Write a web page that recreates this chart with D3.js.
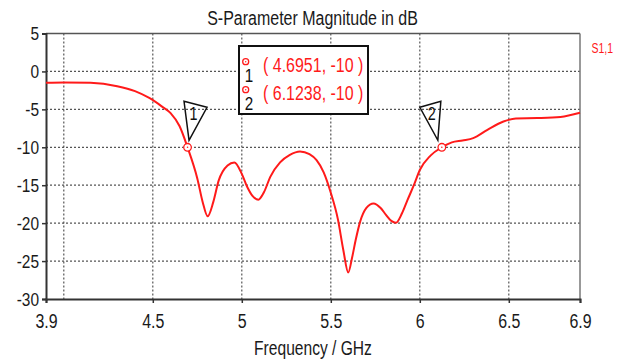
<!DOCTYPE html>
<html>
<head>
<meta charset="utf-8">
<script src="https://cdn.jsdelivr.net/npm/d3@7"></script>
<style>
  body { margin: 0; background: #fff; }
  text { font-family: "Liberation Sans", Arial, sans-serif; }
</style>
</head>
<body>
<script>
    const chart_width = 628;
    const chart_height = 362;

    // S11 curve
    const freq = [3.9, 4.0, 4.15, 4.3, 4.4, 4.48, 4.55, 4.6, 4.65, 4.6951, 4.75, 4.78, 4.808, 4.84, 4.87,
        4.92, 4.958, 5.0, 5.03, 5.06, 5.093, 5.125, 5.16, 5.215, 5.27, 5.327, 5.38, 5.42, 5.46, 5.5,
        5.54, 5.57, 5.598, 5.62, 5.64, 5.665, 5.7, 5.74, 5.78, 5.81, 5.84, 5.866, 5.9, 5.93, 5.97,
        6.0, 6.06, 6.1238, 6.18, 6.24, 6.3, 6.38, 6.47, 6.54, 6.66, 6.79, 6.9];
    const s11 = [-1.5, -1.45, -1.5, -1.95, -2.6, -3.5, -4.6, -5.5, -7.2, -10, -14.1, -17.2, -19.1, -17.2, -14.4,
        -12.4, -12.0, -13.5, -15.2, -16.4, -16.9, -15.9, -13.9, -12.0, -11.0, -10.55, -10.9, -11.7, -13.3, -16.0,
        -19.5, -23.5, -26.5, -24.5, -22.2, -19.8, -18.0, -17.4, -18.0, -18.9, -19.7, -19.95, -18.7, -17.0, -14.8,
        -13.0, -11.1, -10, -9.35, -9.1, -8.8, -7.7, -6.6, -6.2, -6.15, -6.0, -5.45];

    const marker_freq = [4.6951, 6.1238];
    const marker_db = [-10, -10];
    const marker_names = ['1', '2'];

    const x_tick_labels = [3.9, 4.5, 5, 5.5, 6, 6.5, 6.9];
    const x_grid = [4, 4.5, 5, 5.5, 6, 6.5];
    const y_ticks = [5, 0, -5, -10, -15, -20, -25, -30];
    const y_grid = [0, -5, -10, -15, -20, -25];

    const svg = d3.select('body').append('svg')
        .attr('width', chart_width).attr('height', chart_height);

    const plot_left = 46, plot_right = 580, plot_top = 33.5, plot_bottom = 299;
    const x = d3.scaleLinear().domain([3.9, 6.9]).range([plot_left, plot_right]);
    const y = d3.scaleLinear().domain([-30, 5]).range([plot_bottom, plot_top]);

    // squeezed text, the original font is narrow
    function squeezedText(g, px, py, txt, size, sx, fill, anchor) {
        return g.append('text')
            .attr('transform', `translate(${px},${py}) scale(${sx},1)`)
            .attr('font-size', size)
            .attr('fill', fill)
            .attr('text-anchor', anchor)
            .text(txt);
    }

    // grid
    svg.append('g').selectAll('line').data(x_grid).join('line')
        .attr('x1', d => x(d)).attr('x2', d => x(d))
        .attr('y1', plot_top).attr('y2', plot_bottom)
        .attr('stroke', '#555').attr('stroke-width', 1.2).attr('stroke-dasharray', '2,2');
    svg.append('g').selectAll('line').data(y_grid).join('line')
        .attr('x1', plot_left).attr('x2', plot_right)
        .attr('y1', d => y(d)).attr('y2', d => y(d))
        .attr('stroke', '#555').attr('stroke-width', 1.2).attr('stroke-dasharray', '2,2');

    // frame
    svg.append('line').attr('x1', plot_left).attr('x2', plot_right).attr('y1', plot_top).attr('y2', plot_top)
        .attr('stroke', '#555').attr('stroke-width', 1.5);
    svg.append('line').attr('x1', plot_right).attr('x2', plot_right).attr('y1', plot_top).attr('y2', plot_bottom)
        .attr('stroke', '#777').attr('stroke-width', 1.5);

    // axes
    const xAxis = svg.append('g').attr('transform', `translate(0,${plot_bottom})`)
        .call(d3.axisBottom(x).tickValues(x_tick_labels).tickSize(4).tickFormat(d => d));
    const yAxis = svg.append('g').attr('transform', `translate(${plot_left},0)`)
        .call(d3.axisLeft(y).tickValues(y_ticks).tickSize(4).tickFormat(d => d));
    [xAxis, yAxis].forEach(a => {
        a.select('.domain').attr('stroke', '#333').attr('stroke-width', 2);
        a.selectAll('.tick line').attr('stroke', '#333').attr('stroke-width', 1.5);
    });
    xAxis.selectAll('.tick text')
        .attr('x', null).attr('y', null).attr('dy', null)
        .attr('transform', 'translate(0,29) scale(0.76,1)')
        .attr('font-size', 21).attr('fill', '#1a1a1a')
        .attr('font-family', '"Liberation Sans", Arial, sans-serif');
    yAxis.selectAll('.tick text')
        .attr('x', null).attr('y', null).attr('dy', null)
        .attr('transform', 'translate(-7,6.3) scale(0.86,1)')
        .attr('font-size', 18).attr('fill', '#1a1a1a')
        .attr('font-family', '"Liberation Sans", Arial, sans-serif');

    // curve
    const pts = freq.map((f, i) => [f, s11[i]]);
    svg.append('path')
        .attr('d', d3.line().x(d => x(d[0])).y(d => y(d[1])).curve(d3.curveMonotoneX)(pts))
        .attr('fill', 'none').attr('stroke', '#ff1a1a').attr('stroke-width', 2);

    // marker flags
    marker_freq.forEach((f, i) => {
        const mx = x(f), my = y(marker_db[i]);
        const tri = i === 0
            ? [[mx - 3.5, my - 46], [mx + 19.5, my - 40], [mx + 1.5, my - 7]]
            : [[mx - 22, my - 40], [mx - 1, my - 46], [mx - 4, my - 7]];
        svg.append('path')
            .attr('d', d3.line()(tri) + 'Z')
            .attr('fill', 'none').attr('stroke', '#111').attr('stroke-width', 1.5);
        const tx = i === 0 ? mx + 6 : mx - 10;
        squeezedText(svg, tx, my - 27, marker_names[i], 18, 0.8, '#111', 'middle');
        svg.append('circle').attr('cx', mx).attr('cy', my).attr('r', 3.8)
            .attr('fill', '#fff').attr('stroke', '#ff1a1a').attr('stroke-width', 1.3);
        svg.append('circle').attr('cx', mx).attr('cy', my).attr('r', 0.8).attr('fill', '#ff1a1a');
    });

    // marker legend box
    const lg = svg.append('g');
    lg.append('rect').attr('x', 239).attr('y', 46).attr('width', 129).attr('height', 68)
        .attr('fill', '#fff').attr('stroke', '#111').attr('stroke-width', 2);
    marker_freq.forEach((f, i) => {
        const by = 71.5 + i * 28;
        lg.append('circle').attr('cx', 245.7).attr('cy', by - 9.8).attr('r', 3)
            .attr('fill', '#fff').attr('stroke', '#ff1a1a').attr('stroke-width', 1.3);
        lg.append('circle').attr('cx', 245.7).attr('cy', by - 9.8).attr('r', 0.7).attr('fill', '#ff1a1a');
        squeezedText(lg, 249, by + 10.5, marker_names[i], 19, 0.8, '#111', 'middle');
        squeezedText(lg, 263, by, `( ${f}, ${marker_db[i]} )`, 20.5, 0.78, '#ff1a1a', 'start');
    });

    // titles
    squeezedText(svg, 312.5, 24.5, 'S-Parameter Magnitude in dB', 19.5, 0.82, '#1a1a1a', 'middle');
    squeezedText(svg, 313, 355, 'Frequency / GHz', 19.5, 0.8, '#1a1a1a', 'middle');
    squeezedText(svg, 591.5, 52.5, 'S1,1', 14, 0.75, '#ff1a1a', 'start');
</script>
</body>
</html>
